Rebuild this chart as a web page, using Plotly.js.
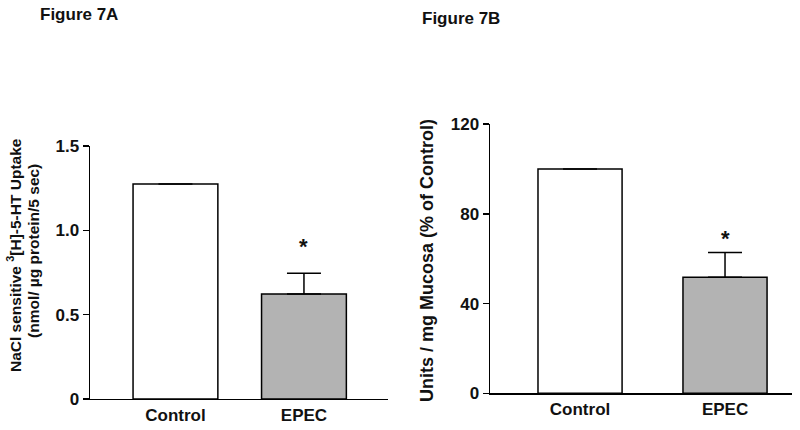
<!DOCTYPE html>
<html><head><meta charset="utf-8">
<script src="https://cdn.plot.ly/plotly-3.0.1.min.js"></script>
<style>html,body{margin:0;padding:0;background:#fff}#c{width:800px;height:430px}</style>
</head><body><div id="c"></div>
<script>
const categories = ["Control", "EPEC"];
const uptakeMean = [1.275, 0.622];
const uptakeErr = [0, 0.123];
const mucosaMean = [100, 51.7];
const mucosaErr = [0, 11.1];
const barColors = ["#ffffff", "#b3b3b3"];
const ticksA = [0, 0.5, 1.0, 1.5];
const tickTextA = ["0", "0.5", "1.0", "1.5"];
const ticksB = [0, 40, 80, 120];
const titleA1 = "NaCl sensitive <sup>3</sup>[H]-5-HT Uptake";
const titleA2 = "(nmol/ µg protein/5 sec)";
const titleB = "Units / mg Mucosa (% of Control)";

const F = "Liberation Sans, Arial, sans-serif";
const C = "#111";
function bar(y, err, xa, ya) {
  return {type: "bar", x: categories, y: y, xaxis: xa, yaxis: ya,
    marker: {color: barColors, line: {color: "#000", width: 1.5}},
    error_y: {type: "data", array: err, symmetric: false, arrayminus: [0, 0], color: "#000", thickness: 1.5, width: 17},
    showlegend: false, hoverinfo: "none"};
}
const data = [bar(uptakeMean, uptakeErr, "x", "y"), bar(mucosaMean, mucosaErr, "x2", "y2")];
data[0].width = 0.66; data[1].width = 0.58;

const ax = {showline: true, linecolor: "#000", linewidth: 1.5, ticks: "outside", ticklen: 6, tickwidth: 1.5, tickcolor: "#000",
  showgrid: false, zeroline: false, tickfont: {family: F, size: 17, color: C, weight: "bold"}};
const xa = {showline: true, linecolor: "#000", linewidth: 1.5, ticks: "", showgrid: false, zeroline: false, type: "category",
  tickfont: {family: F, size: 17, color: C, weight: "bold"}};

function ann(text, x, y, size, extra) {
  return Object.assign({text: text, xref: "paper", yref: "paper", x: x / 800, y: 1 - y / 430, showarrow: false,
    font: {family: F, size: size, color: C, weight: "bold"}}, extra || {});
}

const layout = {
  width: 800, height: 430, margin: {l: 0, r: 0, t: 0, b: 0}, paper_bgcolor: "#fff", plot_bgcolor: "rgba(0,0,0,0)",
  xaxis: Object.assign({}, xa, {domain: [0.1125, 0.485], range: [-0.665, 1.654], anchor: "y"}),
  yaxis: Object.assign({}, ax, {domain: [0.0721, 0.6605], range: [0, 1.5], tickvals: ticksA, ticktext: tickTextA, anchor: "x"}),
  xaxis2: Object.assign({}, xa, {domain: [0.6125, 0.99], range: [-0.621, 1.462], anchor: "y2"}),
  yaxis2: Object.assign({}, ax, {domain: [0.0853, 0.7116], range: [0, 120], tickvals: ticksB, anchor: "x2"}),
  annotations: [
    ann("Figure 7A", 38, 3, 17, {xanchor: "left", yanchor: "top"}),
    ann("Figure 7B", 420, 7, 17, {xanchor: "left", yanchor: "top"}),
    ann(titleA1, 14, 255, 15.5, {textangle: -90, xanchor: "center", yanchor: "middle"}),
    ann(titleA2, 33, 251, 15.5, {textangle: -90, xanchor: "center", yanchor: "middle"}),
    ann(titleB, 427, 260, 18, {textangle: -90, xanchor: "center", yanchor: "middle"}),
    {text: "*", xref: "x", yref: "y", x: categories[1], y: uptakeMean[1] + uptakeErr[1], yanchor: "bottom", yshift: 12, showarrow: false, font: {family: F, size: 22, color: C, weight: "bold"}},
    {text: "*", xref: "x2", yref: "y2", x: categories[1], y: mucosaMean[1] + mucosaErr[1], yanchor: "bottom", yshift: -1, showarrow: false, font: {family: F, size: 22, color: C, weight: "bold"}}
  ]
};
Plotly.newPlot("c", data, layout, {staticPlot: true});
</script></body></html>
